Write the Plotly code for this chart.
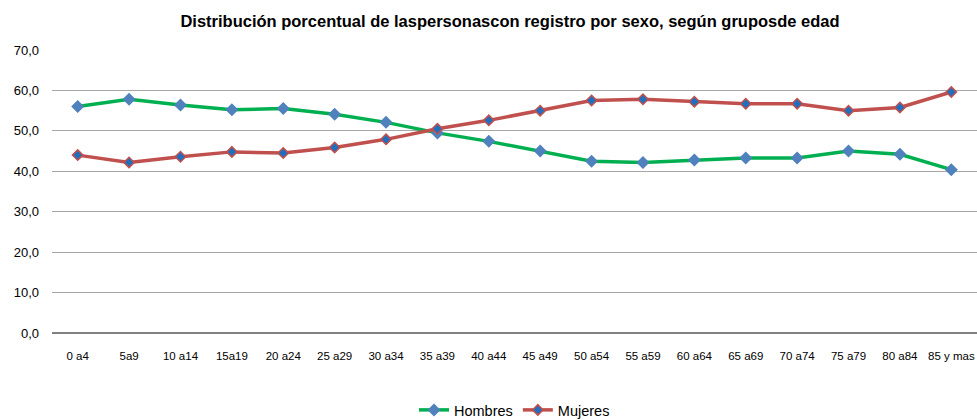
import plotly.graph_objects as go

categories = ["0 a4", "5a9", "10 a14", "15a19", "20 a24", "25 a29", "30 a34", "35 a39", "40 a44",
              "45 a49", "50 a54", "55 a59", "60 a64", "65 a69", "70 a74", "75 a79", "80 a84", "85 y mas"]
hombres = [56.0, 57.8, 56.4, 55.2, 55.5, 54.1, 52.1, 49.5, 47.4, 45.0, 42.5, 42.2, 42.8, 43.3, 43.3, 45.0, 44.2, 40.4]
mujeres = [44.0, 42.2, 43.6, 44.8, 44.5, 45.9, 47.9, 50.5, 52.6, 55.0, 57.5, 57.8, 57.2, 56.7, 56.7, 55.0, 55.8, 59.6]
y_ticks = [0, 10, 20, 30, 40, 50, 60, 70]
y_tick_labels = ["0,0", "10,0", "20,0", "30,0", "40,0", "50,0", "60,0", "70,0"]

font_main = "Liberation Sans, Arial, sans-serif"

fig = go.Figure()
fig.add_trace(go.Scatter(
    x=categories, y=hombres, name="Hombres", mode="lines+markers",
    line=dict(color="#00B050", width=3.5),
    marker=dict(symbol="diamond", size=10, color="#4F81BD", line=dict(width=0)),
))
fig.add_trace(go.Scatter(
    x=categories, y=mujeres, name="Mujeres", mode="lines+markers",
    line=dict(color="#C0504D", width=3.5),
    marker=dict(symbol="diamond", size=8, color="#1F6FBF", line=dict(color="#C0504D", width=1.5)),
))

fig.update_layout(
    width=977, height=420,
    margin=dict(l=52, r=0, t=50, b=87),
    paper_bgcolor="white", plot_bgcolor="white",
    title=dict(text="<b>Distribución porcentual de laspersonascon registro por sexo, según gruposde edad</b>",
               x=0.522, xanchor="center", yref="container", y=0.95, yanchor="middle",
               font=dict(family=font_main, size=16.5, color="black")),
    font=dict(family=font_main, color="black"),
    showlegend=True,
    legend=dict(orientation="h", x=0.5, xanchor="center", yref="container", y=0.062, yanchor="top",
                font=dict(size=14.5, family=font_main),
                itemwidth=30, tracegroupgap=0),
)
fig.update_xaxes(
    type="category", range=[-0.5, len(categories) - 0.5],
    showgrid=False, showline=False, ticks="", automargin=False,
    tickfont=dict(family=font_main, size=11.5, color="black"),
    tickangle=0, ticklabelstandoff=14, ticklabeloverflow="allow",
)
fig.update_yaxes(
    range=[0, 70], tickvals=y_ticks, ticktext=y_tick_labels, automargin=False,
    showgrid=True, gridcolor="#A6A6A6", gridwidth=1,
    zeroline=True, zerolinecolor="#808080", zerolinewidth=2,
    tickfont=dict(size=13, color="black"), ticks="", ticklabelstandoff=12,
)

# remove the browser's default 8px body margin so the 977x420 figure fills the window exactly
fig.write_html("out.html", config={"displayModeBar": False},
               post_script="document.body.style.margin='0px';")
